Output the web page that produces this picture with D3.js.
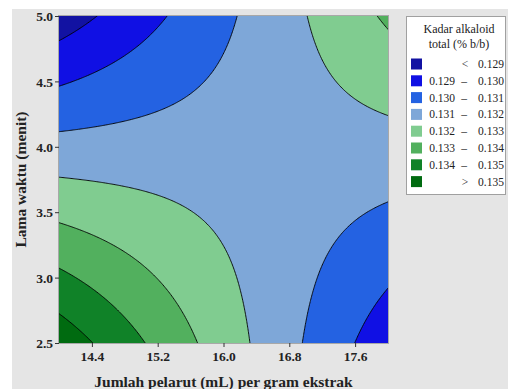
<!DOCTYPE html>
<html><head><meta charset="utf-8">
<script src="https://cdn.jsdelivr.net/npm/d3@7"></script>
<style>html,body{margin:0;padding:0;background:#fff;}</style>
</head><body>
<script>
// ---- data ----
// Fitted response surface (coded units u=(x-16)/2, v=(y-3.75)/1.25):
// z = b0 + b1*u + b2*v + b12*u*v
const modelTerms = ["const", "u", "v", "u*v"];
const modelCoefficients = [0.131655, -0.000396, -0.000850, 0.002745];
const xDomain = [14, 18];
const yDomain = [2.5, 5.0];
const xTicks = [14.4, 15.2, 16.0, 16.8, 17.6];
const yTicks = [2.5, 3.0, 3.5, 4.0, 4.5, 5.0];
const levels = [0.129, 0.130, 0.131, 0.132, 0.133, 0.134, 0.135];
const legendLabels = ["<  0.129", "0.129 – 0.130", "0.130 – 0.131", "0.131 – 0.132",
  "0.132 – 0.133", "0.133 – 0.134", "0.134 – 0.135", ">  0.135"];
const colors = ["#1212a2", "#1010e4", "#2462e2", "#7ea7d8", "#80cc90", "#52b05e", "#108228", "#006b10"];

const W = 508, H = 389;
const svg = d3.select("body").append("svg").attr("width", W).attr("height", H)
  .style("font-family", "'Liberation Serif','Times New Roman',serif");

// background panel
svg.append("rect").attr("x", 12).attr("y", 9).attr("width", W - 12).attr("height", H - 9).attr("fill", "#e5e5e5");

const P = {l: 59, r: 388, t: 16, b: 343};
const x = d3.scaleLinear().domain(xDomain).range([P.l, P.r]);
const y = d3.scaleLinear().domain(yDomain).range([P.b, P.t]);

function model(xv, yv) {
  const u = (xv - 16) / 2, v = (yv - 3.75) / 1.25;
  const t = [1, u, v, u * v];
  return d3.sum(t, (d, i) => d * modelCoefficients[i]);
}

// grid (extended beyond plot, then clipped)
const nx = 320, ny = 260;
const gx0 = 13.8, gx1 = 18.2, gy0 = 2.35, gy1 = 5.15;
const sx = (gx1 - gx0) / (nx - 1), sy = (gy1 - gy0) / (ny - 1);
const values = new Array(nx * ny);
for (let j = 0; j < ny; j++) for (let i = 0; i < nx; i++)
  values[j * nx + i] = model(gx0 + i * sx, gy0 + j * sy);

const contours = d3.contours().size([nx, ny]).thresholds(levels)(values);
const proj = d3.geoTransform({point: function(px, py) {
  this.stream.point(x(gx0 + (px - 0.5) * sx), y(gy0 + (py - 0.5) * sy));
}});
const path = d3.geoPath(proj);

svg.append("clipPath").attr("id", "clip").append("rect")
  .attr("x", P.l).attr("y", P.t).attr("width", P.r - P.l).attr("height", P.b - P.t);
const g = svg.append("g").attr("clip-path", "url(#clip)");
g.append("rect").attr("x", P.l).attr("y", P.t).attr("width", P.r - P.l).attr("height", P.b - P.t).attr("fill", colors[0]);
g.selectAll("path.fill").data(contours).join("path").attr("class", "fill")
  .attr("d", path).attr("fill", (d, i) => colors[i + 1]).attr("stroke", "none");
g.selectAll("path.line").data(contours).join("path").attr("class", "line")
  .attr("d", path).attr("fill", "none").attr("stroke", "#000").attr("stroke-width", 0.9);

// frame
svg.append("rect").attr("x", P.l - 0.5).attr("y", P.t - 0.5).attr("width", P.r - P.l + 1).attr("height", P.b - P.t + 1)
  .attr("fill", "none").attr("stroke", "#a8a8a8").attr("stroke-width", 1);

// axes
const xa = svg.append("g").attr("transform", `translate(0,${P.b})`)
  .call(d3.axisBottom(x).tickValues(xTicks).tickFormat(d3.format(".1f")).tickSize(4).tickSizeOuter(0));
const ya = svg.append("g").attr("transform", `translate(${P.l},0)`)
  .call(d3.axisLeft(y).tickValues(yTicks).tickFormat(d3.format(".1f")).tickSize(4).tickSizeOuter(0));
[xa, ya].forEach(a => {
  a.select(".domain").remove();
  a.selectAll(".tick line").attr("stroke", "#333");
  a.selectAll(".tick text").attr("fill", "#222").style("font-family", "'Liberation Serif',serif")
    .style("font-size", "13.5px").style("font-weight", "bold");
});
xa.selectAll(".tick text").attr("dy", null).attr("y", 18);
ya.selectAll(".tick text").attr("x", -6).attr("dy", "0.35em");

svg.append("text").attr("x", (P.l + P.r) / 2).attr("y", 387).attr("text-anchor", "middle")
  .style("font-size", "15.5px").style("font-weight", "bold").attr("fill", "#222")
  .text("Jumlah pelarut (mL) per gram ekstrak");
svg.append("text").attr("transform", `translate(26,${(P.t + P.b) / 2}) rotate(-90)`).attr("text-anchor", "middle")
  .style("font-size", "15.5px").style("font-weight", "bold").attr("fill", "#222")
  .text("Lama waktu (menit)");

// legend
const lg = svg.append("g");
lg.append("rect").attr("x", 406.5).attr("y", 16.5).attr("width", 99).attr("height", 178)
  .attr("fill", "#fff").attr("stroke", "#a0a0a0");
lg.append("text").attr("x", 459).attr("y", 33).attr("text-anchor", "middle").style("font-size", "12px").attr("fill", "#222").text("Kadar alkaloid");
lg.append("text").attr("x", 459).attr("y", 48).attr("text-anchor", "middle").style("font-size", "12px").attr("fill", "#222").text("total (% b/b)");
const rows = lg.selectAll("g.row").data(legendLabels).join("g").attr("class", "row")
  .attr("transform", (d, i) => `translate(0,${64 + i * 16.8})`);
rows.append("rect").attr("x", 411).attr("y", -5.5).attr("width", 11).attr("height", 11).attr("fill", (d, i) => colors[i]);
rows.each(function(d, i) {
  const r = d3.select(this);
  const st = {"font-size": "11.5px"};
  if (i === 0 || i === legendLabels.length - 1) {
    const parts = d.split(/\s+/);
    r.append("text").attr("x", 465).attr("y", 4).attr("text-anchor", "middle").style("font-size", "11.5px").attr("fill", "#222").text(parts[0]);
    r.append("text").attr("x", 478).attr("y", 4).style("font-size", "11.5px").attr("fill", "#222").text(parts[1]);
  } else {
    const parts = d.split(" – ");
    r.append("text").attr("x", 455).attr("y", 4).attr("text-anchor", "end").style("font-size", "11.5px").attr("fill", "#222").text(parts[0]);
    r.append("text").attr("x", 464).attr("y", 4).attr("text-anchor", "middle").style("font-size", "11.5px").attr("fill", "#222").text("–");
    r.append("text").attr("x", 478).attr("y", 4).style("font-size", "11.5px").attr("fill", "#222").text(parts[1]);
  }
});
</script>
</body></html>
